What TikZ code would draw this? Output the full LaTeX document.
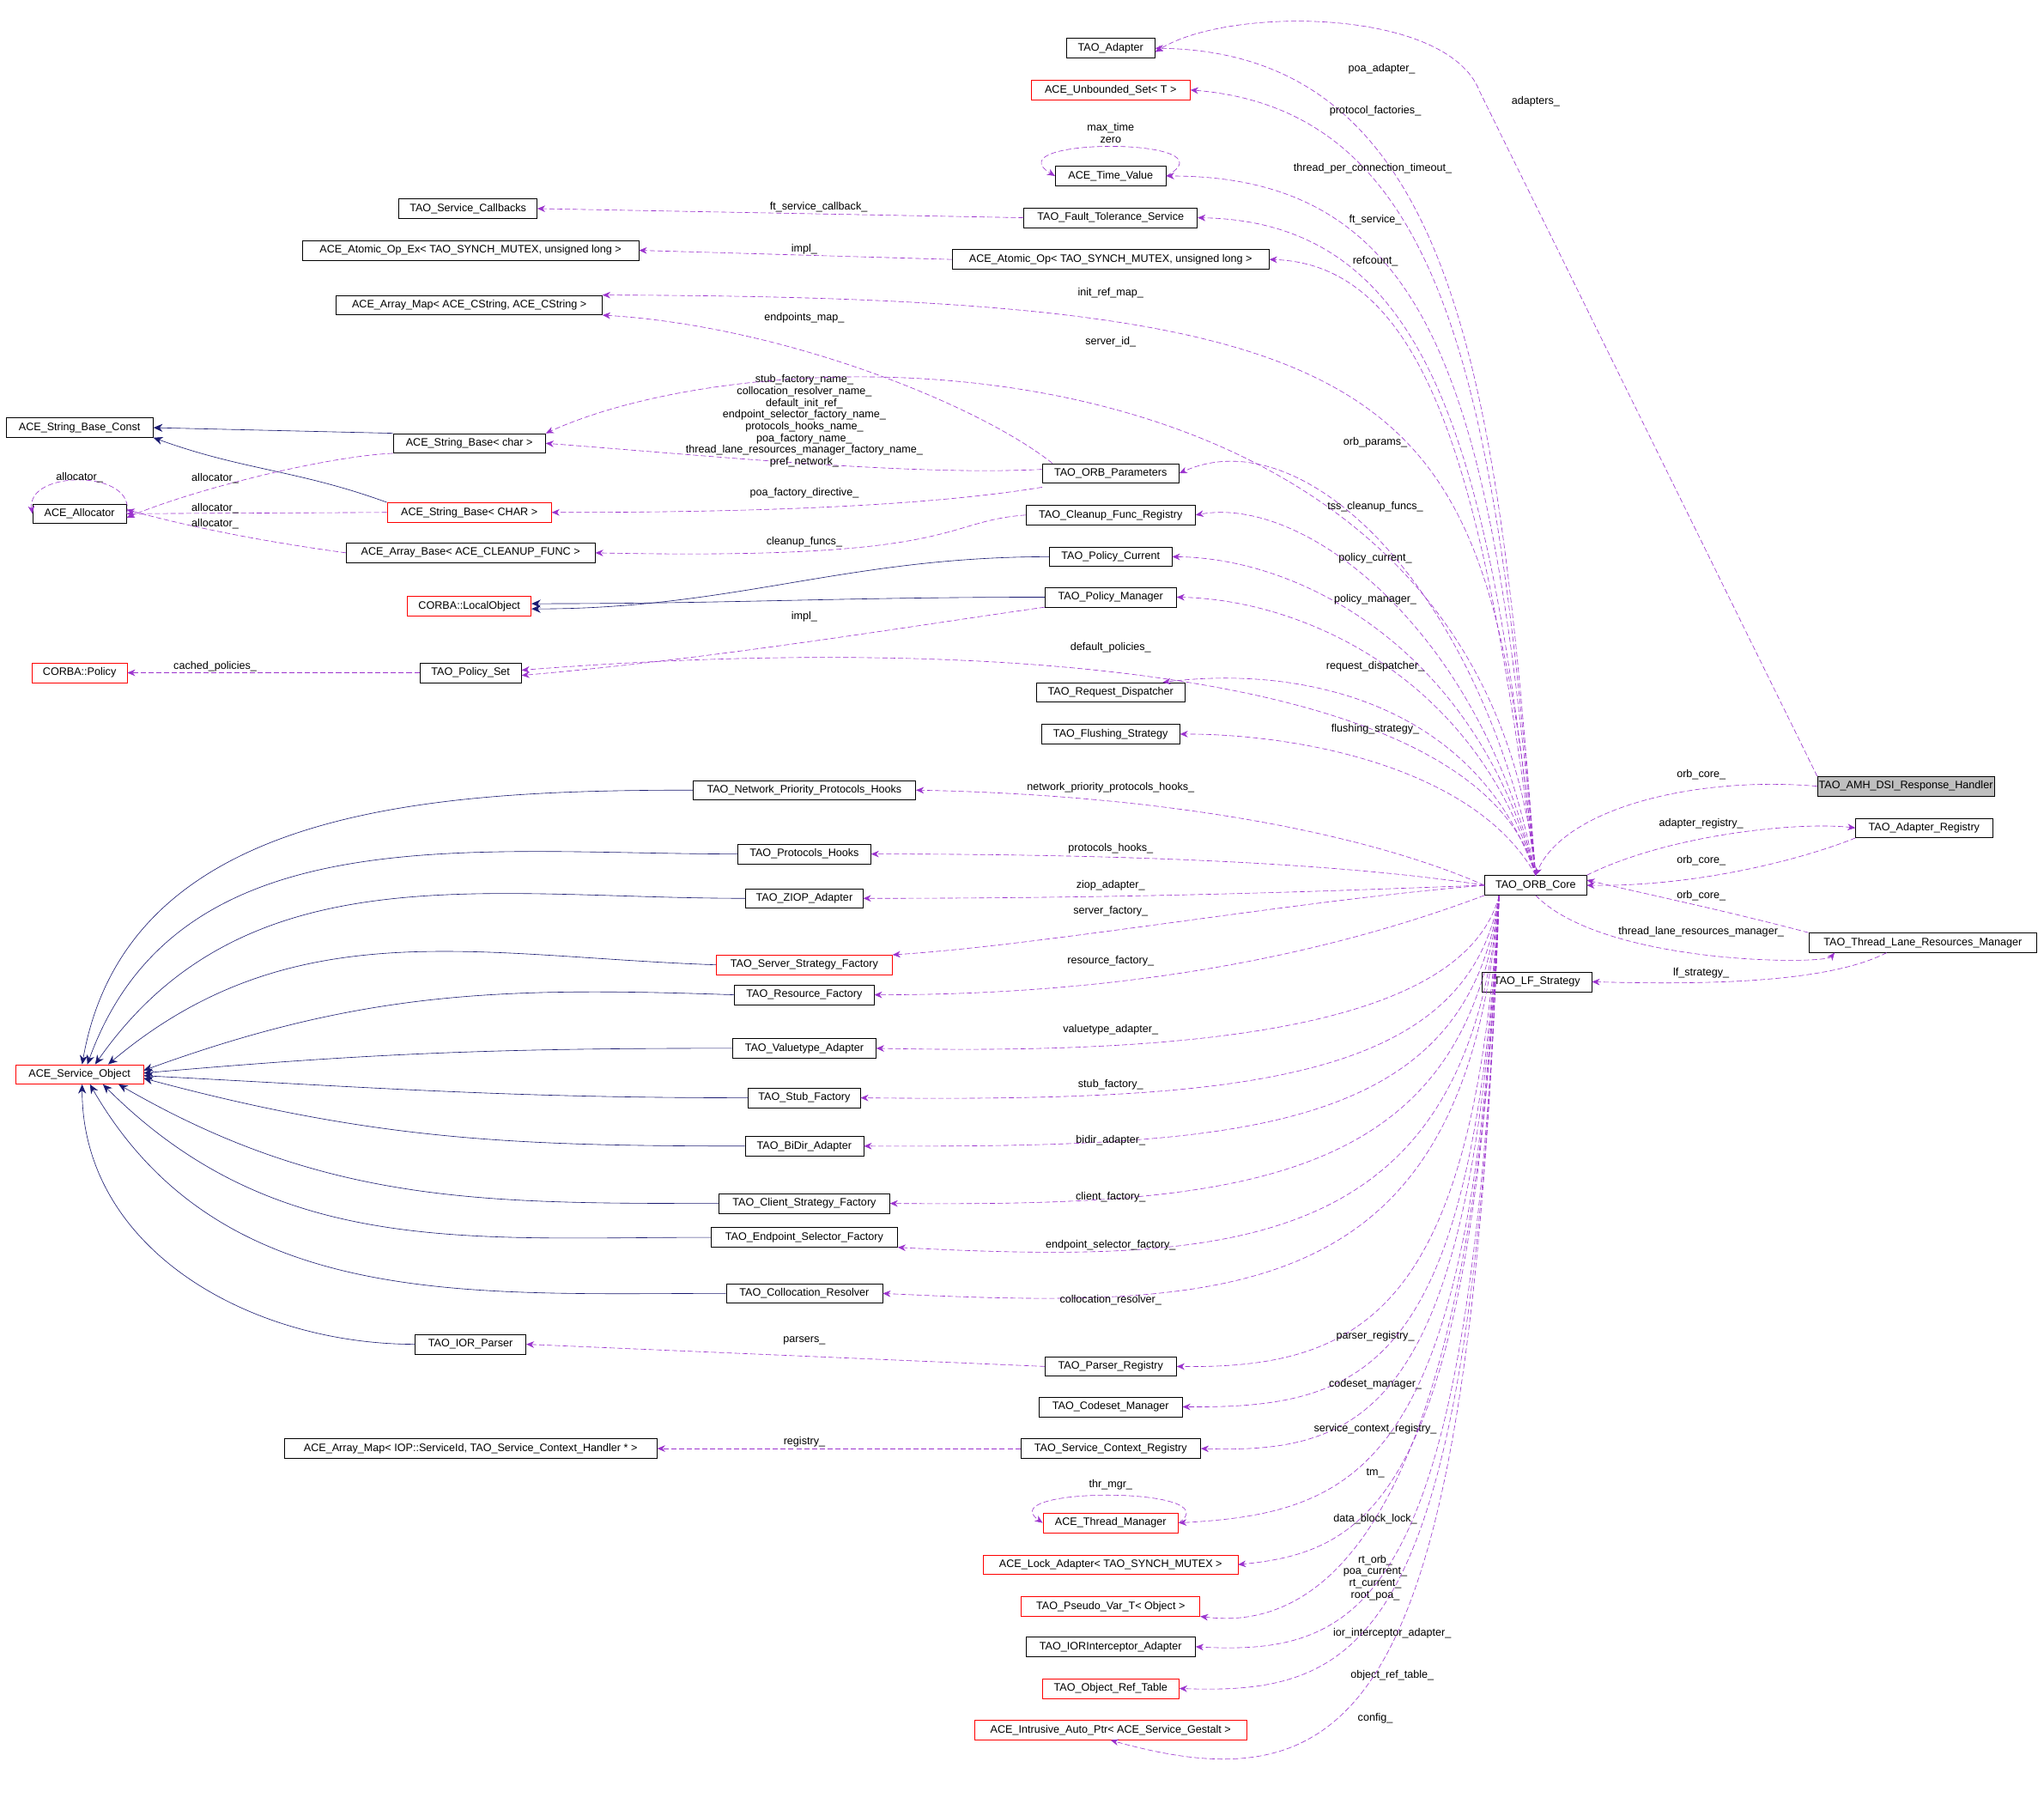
\documentclass[tikz,border=0pt]{standalone}
\usepackage{fontspec}
\setmainfont{Liberation Sans}
\usetikzlibrary{arrows.meta}
\begin{document}
\begin{tikzpicture}[x=1pt,y=-1pt,
 box/.style={draw,thin,minimum height=15,inner xsep=1,inner ysep=0,font=\fontsize{8.3}{9}\selectfont},
 rbox/.style={box,draw=red},
 gbox/.style={box,fill=black!25},
 dep/.style={draw={rgb,255:red,154;green,50;blue,205},dashed,dash pattern=on 4pt off 2pt,-{Stealth[length=6pt,width=5pt]}},
 inh/.style={draw={rgb,255:red,25;green,25;blue,112},-{Stealth[length=7pt,width=6pt]}},
 lab/.style={font=\fontsize{8.3}{9}\selectfont,inner sep=0.5,align=center}]
\useasboundingbox[fill=white] (0,0) rectangle (1568,1388);
% nodes
\node[box,minimum width=68] (ad) at (852,37) {TAO\_Adapter};
\node[rbox,minimum width=122] (us) at (852,69) {ACE\_Unbounded\_Set< T >};
\node[box,minimum width=85] (tv) at (852,135) {ACE\_Time\_Value};
\node[box,minimum width=106] (scb) at (359,160) {TAO\_Service\_Callbacks};
\node[box,minimum width=133] (ft) at (852,167) {TAO\_Fault\_Tolerance\_Service};
\node[box,minimum width=258] (aoex) at (361,192) {ACE\_Atomic\_Op\_Ex< TAO\_SYNCH\_MUTEX, unsigned long >};
\node[box,minimum width=243] (ao) at (852,199) {ACE\_Atomic\_Op< TAO\_SYNCH\_MUTEX, unsigned long >};
\node[box,minimum width=204] (amc) at (360,234) {ACE\_Array\_Map< ACE\_CString, ACE\_CString >};
\node[box,minimum width=113] (sbconst) at (61,328) {ACE\_String\_Base\_Const};
\node[box,minimum width=117] (sbc) at (360,340) {ACE\_String\_Base< char >};
\node[box,minimum width=105] (op) at (852,363) {TAO\_ORB\_Parameters};
\node[box,minimum width=72] (al) at (61,394) {ACE\_Allocator};
\node[rbox,minimum width=126] (sbC) at (360,393) {ACE\_String\_Base< CHAR >};
\node[box,minimum width=130] (cfr) at (852,395) {TAO\_Cleanup\_Func\_Registry};
\node[box,minimum width=191] (ab) at (361,424) {ACE\_Array\_Base< ACE\_CLEANUP\_FUNC >};
\node[box,minimum width=94] (pc) at (852,427) {TAO\_Policy\_Current};
\node[rbox,minimum width=95] (lo) at (360,465) {CORBA::LocalObject};
\node[box,minimum width=101] (pm) at (852,458) {TAO\_Policy\_Manager};
\node[rbox,minimum width=73] (cp) at (61,516) {CORBA::Policy};
\node[box,minimum width=78] (ps) at (361,516) {TAO\_Policy\_Set};
\node[box,minimum width=114] (rd) at (852,531) {TAO\_Request\_Dispatcher};
\node[box,minimum width=106] (fs) at (852,563) {TAO\_Flushing\_Strategy};
\node[gbox,minimum width=129] (amh) at (1462,603) {TAO\_AMH\_DSI\_Response\_Handler};
\node[box,minimum width=171] (npph) at (617,606) {TAO\_Network\_Priority\_Protocols\_Hooks};
\node[box,minimum width=105] (ar) at (1476,635) {TAO\_Adapter\_Registry};
\node[box,minimum width=102] (ph) at (617,655) {TAO\_Protocols\_Hooks};
\node[box,minimum width=78] (orb) at (1178,679) {TAO\_ORB\_Core};
\node[box,minimum width=90] (ziop) at (617,689) {TAO\_ZIOP\_Adapter};
\node[box,minimum width=175] (tlrm) at (1475,723) {TAO\_Thread\_Lane\_Resources\_Manager};
\node[rbox,minimum width=135] (ssf) at (617,740) {TAO\_Server\_Strategy\_Factory};
\node[box,minimum width=84] (lf) at (1179,753) {TAO\_LF\_Strategy};
\node[box,minimum width=107] (rf) at (617,763) {TAO\_Resource\_Factory};
\node[box,minimum width=110] (va) at (617,804) {TAO\_Valuetype\_Adapter};
\node[rbox,minimum width=98] (so) at (61,824) {ACE\_Service\_Object};
\node[box,minimum width=86] (sf) at (617,842) {TAO\_Stub\_Factory};
\node[box,minimum width=91] (bd) at (617,879) {TAO\_BiDir\_Adapter};
\node[box,minimum width=131] (csf) at (617,923) {TAO\_Client\_Strategy\_Factory};
\node[box,minimum width=143] (esf) at (617,949) {TAO\_Endpoint\_Selector\_Factory};
\node[box,minimum width=120] (cr) at (617,992) {TAO\_Collocation\_Resolver};
\node[box,minimum width=85] (iorp) at (361,1031) {TAO\_IOR\_Parser};
\node[box,minimum width=101] (pr) at (852,1048) {TAO\_Parser\_Registry};
\node[box,minimum width=110] (cm) at (852,1079) {TAO\_Codeset\_Manager};
\node[box,minimum width=286] (amiop) at (361,1111) {ACE\_Array\_Map< IOP::ServiceId, TAO\_Service\_Context\_Handler * >};
\node[box,minimum width=138] (scr) at (852,1111) {TAO\_Service\_Context\_Registry};
\node[rbox,minimum width=104] (tm) at (852,1168) {ACE\_Thread\_Manager};
\node[rbox,minimum width=195] (la) at (852,1200) {ACE\_Lock\_Adapter< TAO\_SYNCH\_MUTEX >};
\node[rbox,minimum width=137] (pv) at (852,1232) {TAO\_Pseudo\_Var\_T< Object >};
\node[box,minimum width=130] (ioria) at (852,1263) {TAO\_IORInterceptor\_Adapter};
\node[rbox,minimum width=105] (ort) at (852,1295) {TAO\_Object\_Ref\_Table};
\node[rbox,minimum width=209] (iap) at (852,1327) {ACE\_Intrusive\_Auto\_Ptr< ACE\_Service\_Gestalt >};
\coordinate (os) at (1150,687);

% inheritance
\draw[inh] (sbc.north west) -- (sbconst.east);
\draw[inh] (sbC.north west) to[out=160,in=-20] (sbconst.south east);
\draw[inh] (pc.west) to[out=180,in=0] ([yshift=-2]lo.east);
\draw[inh] (pm.west) to[out=180,in=0] ([yshift=2]lo.east);
\draw[inh] (npph.west) to[out=180,in=80] ([xshift=2]so.north);
\draw[inh] (ph.west) to[out=180,in=70] ([xshift=6]so.north);
\draw[inh] (ziop.west) to[out=180,in=55] ([xshift=12]so.north);
\draw[inh] (ssf.west) to[out=178,in=40] ([xshift=22]so.north);
\draw[inh] (rf.west) to[out=178,in=20] ([yshift=3]so.east);
\draw[inh] (va.west) to[out=180,in=5] ([yshift=1]so.east);
\draw[inh] (sf.west) to[out=180,in=-3] ([yshift=-1]so.east);
\draw[inh] (bd.west) to[out=180,in=-15] ([yshift=-3]so.east);
\draw[inh] (csf.west) to[out=180,in=-30] ([xshift=30]so.south);
\draw[inh] (esf.west) to[out=180,in=-45] ([xshift=18]so.south);
\draw[inh] (cr.west) to[out=180,in=-60] ([xshift=8]so.south);
\draw[inh] (iorp.west) to[out=180,in=-90] ([xshift=2]so.south);

% self loops
\draw[dep] (tv.east) .. controls (950,105) and (760,105) .. (tv.west);
\node[lab] (l_tv) at (852,102) {max\_time\\zero};
\draw[dep] (al.east) .. controls (105,360) and (20,360) .. (al.west);
\node[lab] (l_al) at (61,366) {allocator\_};
\draw[dep] (tm.east) .. controls (945,1140) and (760,1140) .. (tm.west);
\node[lab] (l_tm) at (852,1139) {thr\_mgr\_};

% left side deps
\draw[dep] (ft.west) -- (scb.east);
\node[lab] (l_ft) at (628,159) {ft\_service\_callback\_};
\draw[dep] (ao.west) -- (aoex.east);
\node[lab] (l_ao) at (617,191) {impl\_};
\draw[dep] ([xshift=8]op.north west) .. controls (750,310) and (600,250) .. (amc.south east);
\node[lab] (l_ep) at (617,244) {endpoints\_map\_};
\draw[dep] ([yshift=3]op.west) .. controls (700,365) and (550,350) .. (sbc.east);
\node[lab] (l_opblk) at (617,323) {stub\_factory\_name\_\\collocation\_resolver\_name\_\\default\_init\_ref\_\\endpoint\_selector\_factory\_name\_\\protocols\_hooks\_name\_\\poa\_factory\_name\_\\thread\_lane\_resources\_manager\_factory\_name\_\\pref\_network\_};
\draw[dep] ([yshift=-3]op.south west) .. controls (700,390) and (550,393) .. (sbC.east);
\node[lab] (l_pfd) at (617,378) {poa\_factory\_directive\_};
\draw[dep] (sbc.south west) .. controls (250,350) and (150,375) .. ([yshift=-3]al.east);
\node[lab] (l_a1) at (165,367) {allocator\_};
\draw[dep] (sbC.west) -- (al.east);
\node[lab] (l_a2) at (165,390) {allocator\_};
\draw[dep] (ab.west) .. controls (200,415) and (150,405) .. ([yshift=3]al.east);
\node[lab] (l_a3) at (165,402) {allocator\_};
\draw[dep] (cfr.west) .. controls (720,400) and (740,430) .. (ab.east);
\node[lab] (l_cf) at (617,416) {cleanup\_funcs\_};
\draw[dep] (pm.south west) .. controls (700,480) and (550,505) .. ([yshift=-2]ps.east);
\node[lab] (l_pi) at (617,473) {impl\_};
\draw[dep] (ps.west) -- (cp.east);
\node[lab] (l_cp) at (165,511) {cached\_policies\_};
\draw[dep] (pr.west) -- (iorp.east);
\node[lab] (l_pa) at (617,1028) {parsers\_};
\draw[dep] (scr.west) -- (amiop.east);
\node[lab] (l_rg) at (617,1106) {registry\_};

% ORB core upward
\draw[dep] (orb.north) .. controls (1150,300) and (1120,40) .. (ad.east);
\node[lab] (l_pa2) at (1060,53) {poa\_adapter\_};
\draw[dep] (orb.north) .. controls (1148,300) and (1110,85) .. (us.east);
\node[lab] (l_pf) at (1055,85) {protocol\_factories\_};
\draw[dep] (orb.north) .. controls (1145,300) and (1100,135) .. (tv.east);
\node[lab] (l_tp) at (1053,129) {thread\_per\_connection\_timeout\_};
\draw[dep] (orb.north) .. controls (1143,350) and (1100,170) .. (ft.east);
\node[lab] (l_fts) at (1055,169) {ft\_service\_};
\draw[dep] (orb.north) .. controls (1140,380) and (1100,203) .. (ao.east);
\node[lab] (l_rc) at (1055,200) {refcount\_};
\draw[dep] (orb.north) .. controls (1138,300) and (1100,228) .. (amc.north east);
\node[lab] (l_ir) at (852,225) {init\_ref\_map\_};
\draw[dep] (orb.north) .. controls (1135,250) and (600,250) .. (sbc.north east);
\node[lab] (l_si) at (852,262) {server\_id\_};
\draw[dep] (orb.north) .. controls (1135,450) and (1000,320) .. (op.east);
\node[lab] (l_op) at (1055,339) {orb\_params\_};
\draw[dep] (orb.north) .. controls (1133,480) and (1000,380) .. (cfr.east);
\node[lab] (l_tss) at (1055,389) {tss\_cleanup\_funcs\_};
\draw[dep] (orb.north) .. controls (1133,500) and (1000,428) .. (pc.east);
\node[lab] (l_pcur) at (1055,428) {policy\_current\_};
\draw[dep] (orb.north) .. controls (1133,520) and (1000,460) .. (pm.east);
\node[lab] (l_pman) at (1055,460) {policy\_manager\_};
\draw[dep] (orb.north) .. controls (1133,500) and (700,490) .. ([yshift=2]ps.east);
\node[lab] (l_dp) at (852,497) {default\_policies\_};
\draw[dep] (orb.north) .. controls (1133,540) and (1000,510) .. ([xshift=40]rd.north);
\node[lab] (l_rdp) at (1055,511) {request\_dispatcher\_};
\draw[dep] (orb.north) .. controls (1133,590) and (1000,563) .. (fs.east);
\node[lab] (l_fls) at (1055,559) {flushing\_strategy\_};

% ORB core middle
\draw[dep] (orb.west) .. controls (1050,640) and (900,610) .. (npph.east);
\node[lab] (l_np) at (852,604) {network\_priority\_protocols\_hooks\_};
\draw[dep] (orb.west) .. controls (1050,665) and (900,655) .. (ph.east);
\node[lab] (l_ph) at (852,651) {protocols\_hooks\_};
\draw[dep] (orb.west) .. controls (1050,682) and (900,689) .. (ziop.east);
\node[lab] (l_zi) at (852,679) {ziop\_adapter\_};
\draw[dep] (orb.west) .. controls (1000,690) and (800,725) .. (ssf.north east);
\node[lab] (l_sf) at (852,699) {server\_factory\_};
\draw[dep] (orb.south west) .. controls (1050,720) and (900,763) .. (rf.east);
\node[lab] (l_rf) at (852,737) {resource\_factory\_};
\draw[dep] (os) .. controls (1125,780) and (950,810) .. (va.east);
\node[lab] (l_va) at (852,790) {valuetype\_adapter\_};
\draw[dep] (os) .. controls (1125,830) and (950,845) .. (sf.east);
\node[lab] (l_stf) at (852,832) {stub\_factory\_};
\draw[dep] (os) .. controls (1125,870) and (950,880) .. (bd.east);
\node[lab] (l_bd) at (852,875) {bidir\_adapter\_};
\draw[dep] (os) .. controls (1125,910) and (950,925) .. (csf.east);
\node[lab] (l_cf2) at (852,918) {client\_factory\_};
\draw[dep] (os) .. controls (1125,960) and (950,970) .. (esf.south east);
\node[lab] (l_es) at (852,955) {endpoint\_selector\_factory\_};
\draw[dep] (os) .. controls (1125,1000) and (950,1005) .. (cr.east);
\node[lab] (l_cr) at (852,997) {collocation\_resolver\_};

% ORB core downward
\draw[dep] (os) .. controls (1130,1000) and (1050,1050) .. (pr.east);
\node[lab] (l_pr) at (1055,1025) {parser\_registry\_};
\draw[dep] (os) .. controls (1130,1050) and (1050,1080) .. (cm.east);
\node[lab] (l_cm) at (1055,1062) {codeset\_manager\_};
\draw[dep] (os) .. controls (1130,1080) and (1050,1115) .. (scr.east);
\node[lab] (l_scr) at (1055,1096) {service\_context\_registry\_};
\draw[dep] (os) .. controls (1130,1120) and (1050,1160) .. (tm.east);
\node[lab] (l_tmm) at (1055,1130) {tm\_};
\draw[dep] (os) .. controls (1130,1150) and (1050,1190) .. (la.east);
\node[lab] (l_dbl) at (1055,1165) {data\_block\_lock\_};
\draw[dep] (os) .. controls (1130,1200) and (1000,1250) .. (pv.south east);
\node[lab] (l_pv) at (1055,1210) {rt\_orb\_\\poa\_current\_\\rt\_current\_\\root\_poa\_};
\draw[dep] (os) .. controls (1130,1230) and (1050,1270) .. (ioria.east);
\node[lab] (l_ioa) at (1068,1253) {ior\_interceptor\_adapter\_};
\draw[dep] (os) .. controls (1130,1260) and (1050,1300) .. (ort.east);
\node[lab] (l_ort) at (1068,1285) {object\_ref\_table\_};
\draw[dep] (os) .. controls (1128,1300) and (1050,1390) .. (iap.south);
\node[lab] (l_cfg) at (1055,1318) {config\_};

% right side
\draw[dep] (amh.west) .. controls (1300,595) and (1200,620) .. (orb.north);
\node[lab] (l_oc1) at (1305,594) {orb\_core\_};
\draw[dep] (orb.north east) .. controls (1280,640) and (1380,630) .. (ar.west);
\node[lab] (l_arg) at (1305,632) {adapter\_registry\_};
\draw[dep] (ar.south west) .. controls (1380,660) and (1300,680) .. (orb.east);
\node[lab] (l_oc2) at (1305,660) {orb\_core\_};
\draw[dep] (tlrm.north west) .. controls (1330,700) and (1260,685) .. ([yshift=4]orb.east);
\node[lab] (l_oc3) at (1305,687) {orb\_core\_};
\draw[dep] (orb.south) .. controls (1230,740) and (1400,740) .. ([xshift=20]tlrm.south west);
\node[lab] (l_tlr) at (1305,715) {thread\_lane\_resources\_manager\_};
\draw[dep] ([xshift=60]tlrm.south west) .. controls (1400,755) and (1300,755) .. (lf.east);
\node[lab] (l_lfs) at (1305,746) {lf\_strategy\_};
\coordinate (bend) at (1135,70);
\draw[dep] (amh.north west) -- (bend) .. controls (1110,5) and (940,5) .. ([yshift=-3]ad.east);
\node[lab] (l_adp) at (1178,78) {adapters\_};
\end{tikzpicture}
\end{document}
